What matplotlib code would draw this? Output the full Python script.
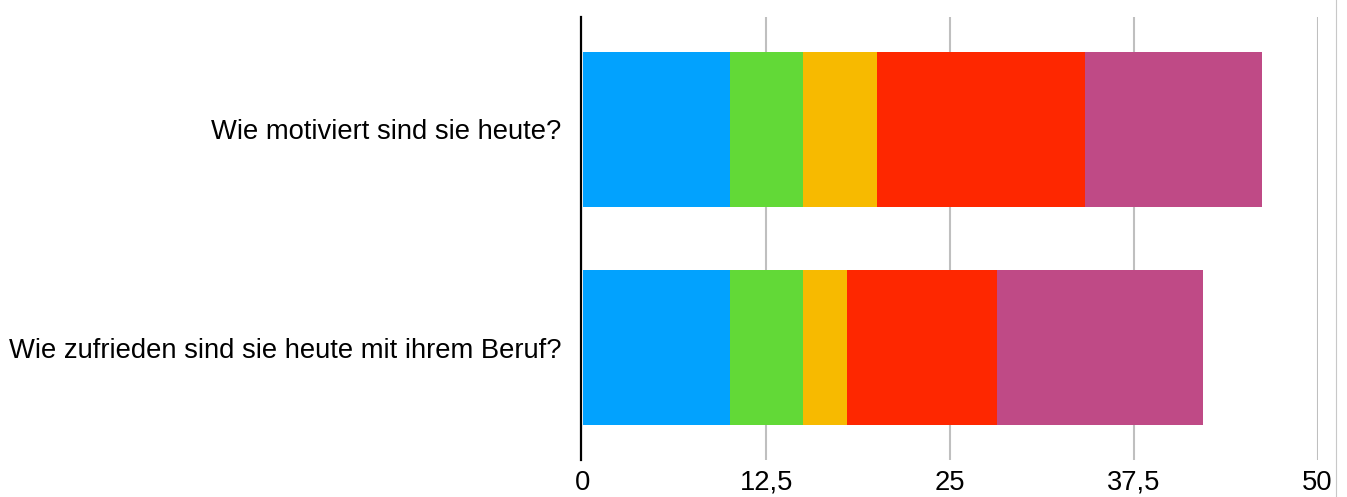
import matplotlib
matplotlib.use("Agg")
import matplotlib.pyplot as plt
from matplotlib.lines import Line2D

plt.rcParams['font.family'] = ['Liberation Sans', 'DejaVu Sans']

questions = ["Wie zufrieden sind sie heute mit ihrem Beruf?", "Wie motiviert sind sie heute?"]
seg1 = [10, 10]
seg2 = [5, 5]
seg3 = [3, 5]
seg4 = [10.2, 14.2]
seg5 = [14, 12]
series = [seg1, seg2, seg3, seg4, seg5]
colors = ["#02A2FE", "#62D937", "#F7BA00", "#FE2700", "#BF4A86"]
xticks = [0, 12.5, 25, 37.5, 50]
xticklabels = ["0", "12,5", "25", "37,5", "50"]

fig = plt.figure(figsize=(13.47, 4.97), dpi=100)
ax = fig.add_axes([582.5 / 1347, 0.0744, 735.0 / 1347, 0.8914])

for s in ["top", "right", "bottom"]:
    ax.spines[s].set_visible(False)
ax.spines["left"].set_position(('outward', 1.1))
ax.spines["left"].set_linewidth(1.6)
ax.spines["left"].set_color("black")
ax.spines["left"].set_zorder(4)

y = list(range(len(questions)))
left = [0] * len(questions)
for vals, c in zip(series, colors):
    ax.barh(y, vals, left=left, height=0.71, color=c, zorder=3)
    left = [l + v for l, v in zip(left, vals)]

ax.set_xlim(0, 50)
ax.set_ylim(-0.513, 1.513)
ax.set_xticks(xticks)
ax.set_xticklabels(xticklabels)
ax.set_yticks(y)
ax.set_yticklabels(questions)
ax.tick_params(axis='both', length=0, labelsize=19.7)
ax.tick_params(axis='x', pad=7)
ax.tick_params(axis='y', pad=14)

ax.grid(axis='x', color="#BFBFBF", linewidth=1.5, zorder=0)
ax.get_xgridlines()[0].set_visible(False)

fig.add_artist(Line2D([1335.5 / 1347, 1335.5 / 1347], [0, 1], transform=fig.transFigure,
                      color="#C8C8C8", linewidth=0.8))

fig.savefig("out.png", dpi=100)
